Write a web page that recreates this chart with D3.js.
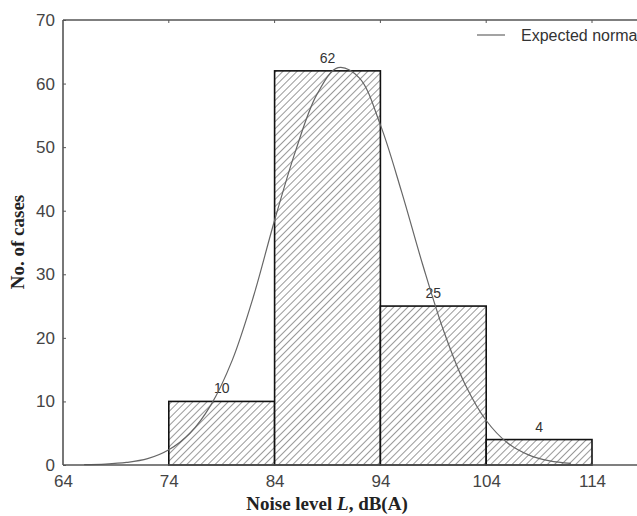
<!DOCTYPE html>
<html>
<head>
<meta charset="utf-8">
<script src="https://cdn.jsdelivr.net/npm/d3@7"></script>
<style>
  html, body { margin: 0; padding: 0; background: #fff; overflow: hidden; }
  svg { display: block; }
</style>
</head>
<body>
<svg id="chart" width="637" height="516"></svg>
<script>
// ---- data ----
const binStarts = [74, 84, 94, 104];
const binEnds   = [84, 94, 104, 114];
const counts    = [10, 62, 25, 4];
const xTicks = [64, 74, 84, 94, 104, 114];
const yTicks = [0, 10, 20, 30, 40, 50, 60, 70];
// expected normal curve
const curveX = [66, 68, 70, 72, 74, 76, 78, 80, 82, 84, 86, 88, 90, 92, 94, 96, 98, 100, 102, 104, 106, 108, 110, 112];
const curveY = [0.05, 0.14, 0.4, 1.0, 2.4, 5.0, 9.5, 16.5, 26.5, 38.5, 49.5, 58.3, 62.5, 60.9, 53.5, 43.0, 31.5, 21.0, 12.7, 7.0, 3.5, 1.6, 0.65, 0.25];
const legendLabel = "Expected normal";

// ---- layout ----
const svg = d3.select("#chart");
const x = d3.scaleLinear().domain([64, 124]).range([63, 63 + 60 * 10.58]);
const y = d3.scaleLinear().domain([0, 70]).range([465, 20]);

// hatch pattern
const defs = svg.append("defs");
const pat = defs.append("pattern")
  .attr("id", "hatch")
  .attr("patternUnits", "userSpaceOnUse")
  .attr("width", 5).attr("height", 5)
  .attr("patternTransform", "rotate(45)");
pat.append("rect").attr("width", 5).attr("height", 5).attr("fill", "#fff");
pat.append("line").attr("x1", 0).attr("y1", 0).attr("x2", 0).attr("y2", 5)
  .attr("stroke", "#444").attr("stroke-width", 1.1);

const axisColor = "#555";
const font = "'Liberation Sans', Arial, sans-serif";
const serif = "'Liberation Serif', 'Times New Roman', serif";

// bars
const bars = binStarts.map((s, i) => ({ s, e: binEnds[i], c: counts[i] }));
svg.append("g").selectAll("rect").data(bars).enter().append("rect")
  .attr("x", d => x(d.s))
  .attr("y", d => y(d.c))
  .attr("width", d => x(d.e) - x(d.s))
  .attr("height", d => y(0) - y(d.c))
  .attr("fill", "url(#hatch)")
  .attr("stroke", "#111")
  .attr("stroke-width", 1.6);

// bar labels
svg.append("g").selectAll("text").data(bars).enter().append("text")
  .attr("x", d => (x(d.s) + x(d.e)) / 2)
  .attr("y", d => y(d.c) - 8)
  .attr("text-anchor", "middle")
  .attr("font-family", font)
  .attr("font-size", 14)
  .attr("fill", "#333")
  .text(d => d.c);

// normal curve
const pts = curveX.map((v, i) => [v, curveY[i]]);
svg.append("path")
  .datum(pts)
  .attr("d", d3.line().x(d => x(d[0])).y(d => y(d[1])).curve(d3.curveCatmullRom))
  .attr("fill", "none")
  .attr("stroke", "#666")
  .attr("stroke-width", 1.2);

// axes
const yAxis = d3.axisLeft(y).tickValues(yTicks).tickSize(-3).tickPadding(8);
const gy = svg.append("g").attr("transform", "translate(63,0)").call(yAxis);
const xAxis = d3.axisBottom(x).tickValues(xTicks).tickSize(0).tickPadding(10);
const gx = svg.append("g").attr("transform", "translate(0,465)").call(xAxis);
[gx, gy].forEach(g => {
  g.select(".domain").attr("stroke", axisColor).attr("stroke-width", 1.6);
  g.selectAll(".tick line").attr("stroke", axisColor);
  g.selectAll(".tick text").attr("font-family", font).attr("font-size", 17).attr("fill", "#444");
});
gx.select(".domain").attr("d", "M63,0H700");
gy.select(".domain").attr("d", "M0,465V20");

// top frame line with minor ticks
svg.append("line").attr("x1", 63).attr("x2", 700).attr("y1", 20).attr("y2", 20)
  .attr("stroke", axisColor).attr("stroke-width", 1.6);
svg.append("g").selectAll("line").data(xTicks.slice(1)).enter().append("line")
  .attr("x1", d => x(d)).attr("x2", d => x(d)).attr("y1", 20).attr("y2", 23)
  .attr("stroke", axisColor);

// legend
svg.append("line").attr("x1", 477).attr("x2", 505).attr("y1", 35).attr("y2", 35)
  .attr("stroke", "#666").attr("stroke-width", 1.2);
svg.append("text").attr("x", 521).attr("y", 41)
  .attr("font-family", font).attr("font-size", 16).attr("fill", "#333")
  .text(legendLabel);

// axis titles
svg.append("text")
  .attr("transform", "translate(24,242) rotate(-90)")
  .attr("text-anchor", "middle")
  .attr("font-family", serif).attr("font-weight", "bold").attr("font-size", 19)
  .attr("fill", "#222")
  .text("No. of cases");

const xt = svg.append("text")
  .attr("x", 327).attr("y", 510)
  .attr("text-anchor", "middle")
  .attr("font-family", serif).attr("font-weight", "bold").attr("font-size", 19)
  .attr("fill", "#222");
xt.append("tspan").text("Noise level ");
xt.append("tspan").attr("font-style", "italic").text("L");
xt.append("tspan").text(", dB(A)");
</script>
</body>
</html>
